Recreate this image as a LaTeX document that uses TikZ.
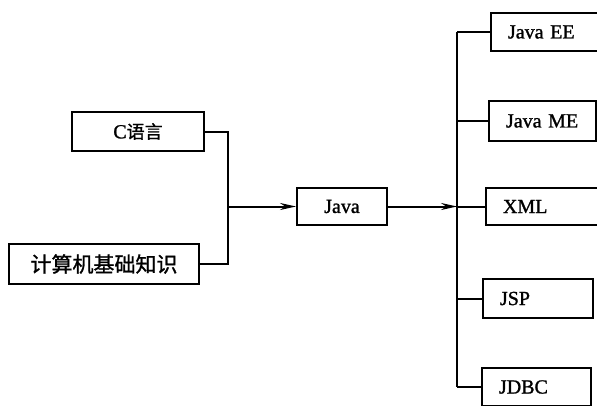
\documentclass[tikz,border=0pt]{standalone}
\usepackage{fontspec}
\setmainfont{Liberation Serif}[FakeBold=1.2]
\newfontfamily\cjk{Noto Sans CJK SC}[FakeBold=1.2]
\usetikzlibrary{arrows.meta}

\begin{document}
\begin{tikzpicture}[x=1pt, y=-1pt, line width=2pt,
    box/.style={draw, anchor=north west, inner sep=0pt, font=\fontsize{20}{23}\selectfont},
    rbox/.style={box, align=left, inner xsep=17pt},
    arr/.style={-{Stealth[length=16pt,width=7pt]}}]
  \useasboundingbox (0,0) rectangle (597,405);
  % left side
  \node [box, minimum width=132pt, minimum height=39pt] (c) at (71,111)
    {C{\cjk\fontsize{18}{21}\selectfont 语言}};
  \node [box, minimum width=190pt, minimum height=40pt] (base) at (8,243)
    {\cjk\fontsize{21}{24}\selectfont 计算机基础知识};
  \node [box, minimum width=90pt, minimum height=37pt] (java) at (296,187) {Java};
  % right side
  \node [rbox, text width=81pt, minimum height=38pt] (ee) at (490,12) {Java EE};
  \node [rbox, text width=73pt, minimum height=40pt] (me) at (488,100) {Java ME};
  \node [rbox, text width=86pt, minimum height=37pt] (xml) at (485,187) {XML};
  \node [rbox, text width=76pt, minimum height=39pt] (jsp) at (482,278) {JSP};
  \node [rbox, text width=75pt, minimum height=38pt] (jdbc) at (481,367) {JDBC};
  \coordinate (join) at ([xshift=-68pt]java.west);
  \coordinate (bar) at ([xshift=69pt]java.east);
  \draw (c.east) -| (join) |- (base.east);
  \draw [arr] (join) -- (java.west);
  \draw [arr] (java.east) -- (bar);
  \draw (bar) -- (xml.west);
  \draw (bar |- ee.west) -- (bar |- jdbc.west);
  \foreach \n in {ee,me,jsp,jdbc}
    \draw (bar |- \n.west) -- (\n.west);
\end{tikzpicture}
\end{document}
